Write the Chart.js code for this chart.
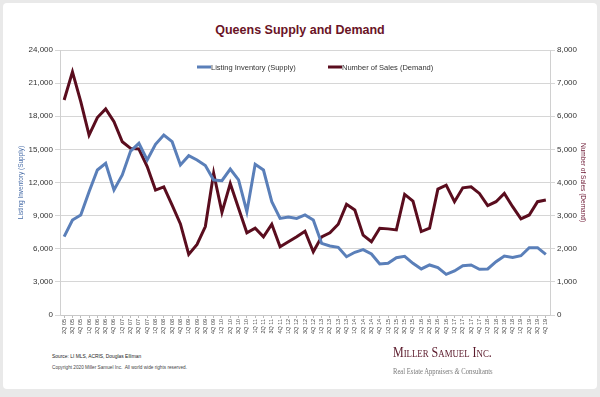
<!DOCTYPE html>
<html>
<head>
<meta charset="utf-8">
<script src="https://cdn.jsdelivr.net/npm/chart.js@4/dist/chart.umd.min.js"></script>
<style>
  html, body { margin: 0; padding: 0; background: #e9e9e9; }
  #frame { position: relative; width: 600px; height: 397px; background: #e9e9e9; overflow: hidden; }
  #card { position: absolute; left: 3px; top: 3px; width: 594px; height: 386px; background: #fff; border-radius: 4px; }
  #chartTitle { position: absolute; left: 0; top: 23px; width: 600px; text-align: center;
    font: bold 12.5px "Liberation Sans", Arial, sans-serif; color: #6a1426; }
  #chartBox { position: absolute; left: 0; top: 0; width: 600px; height: 345px; }
  .src { position: absolute; left: 52px; font-family: "Liberation Sans", Arial, sans-serif; color: #222; white-space: nowrap; }
  #logo1 { position: absolute; left: 393px; top: 344px; font: 15px "Liberation Serif", "DejaVu Serif", serif;
    font-variant: small-caps; color: #5b1a2b; white-space: nowrap; transform: scale(0.8, 1); transform-origin: left top; }
  #logo2 { position: absolute; left: 393px; top: 367px; font: 8.4px "Liberation Serif", "DejaVu Serif", serif; color: #7a7a7a;
    white-space: nowrap; transform: scale(0.79, 1); transform-origin: left top; }
</style>
</head>
<body>
<div id="frame">
  <div id="card"></div>
  <div id="chartTitle">Queens Supply and Demand</div>
  <div id="chartBox"><canvas id="chart1" width="600" height="345"></canvas></div>
  <div class="src" style="top:354px; font-size:4.9px;">Source: LI MLS, ACRIS, Douglas Elliman</div>
  <div class="src" style="top:365px; font-size:4.7px; color:#444;">Copyright 2020 Miller Samuel Inc.&nbsp; All world wide rights reserved.</div>
  <div id="logo1">Miller Samuel Inc.</div>
  <div id="logo2">Real Estate Appraisers <i>&amp;</i> Consultants</div>
</div>
<script>
// 四半期ラベル
const quarters = [
  '2Q 05','3Q 05','4Q 05',
  '1Q 06','2Q 06','3Q 06','4Q 06',
  '1Q 07','2Q 07','3Q 07','4Q 07',
  '1Q 08','2Q 08','3Q 08','4Q 08',
  '1Q 09','2Q 09','3Q 09','4Q 09',
  '1Q 10','2Q 10','3Q 10','4Q 10',
  '1Q 11','2Q 11','3Q 11','4Q 11',
  '1Q 12','2Q 12','3Q 12','4Q 12',
  '1Q 13','2Q 13','3Q 13','4Q 13',
  '1Q 14','2Q 14','3Q 14','4Q 14',
  '1Q 15','2Q 15','3Q 15','4Q 15',
  '1Q 16','2Q 16','3Q 16','4Q 16',
  '1Q 17','2Q 17','3Q 17','4Q 17',
  '1Q 18','2Q 18','3Q 18','4Q 18',
  '1Q 19','2Q 19','3Q 19','4Q 19'
];

// Listing Inventory (Supply) - 左軸
const supply = [
  7100, 8600, 9060, 11170, 13130, 13740, 11320, 12680, 14850, 15550, 14040, 15460, 16300, 15700, 13590,
  14430, 14040, 13530, 12230, 12170, 13220, 12230, 9360, 13650, 13130, 10260, 8750, 8880, 8750, 9060,
  8600, 6490, 6250, 6130, 5280, 5680, 5920, 5520, 4620, 4680, 5190, 5310, 4680, 4170,
  4530, 4290, 3680, 3990, 4470, 4530, 4140, 4170, 4830, 5340, 5220, 5370, 6100, 6100, 5490
];

// Number of Sales (Demand) - 右軸
const demand = [
  6490, 7340, 6440, 5430, 5960, 6220, 5835, 5230, 5030, 5010, 4480, 3770, 3870, 3320, 2750,
  1830, 2130, 2670, 4280, 3100, 3970, 3220, 2480, 2620, 2360, 2740, 2060, 2210, 2360, 2530,
  1910, 2360, 2480, 2740, 3340, 3170, 2410, 2210, 2620, 2600, 2570, 3640, 3440, 2520,
  2620, 3800, 3920, 3420, 3840, 3870, 3670, 3300, 3420, 3670, 3270, 2900, 3020, 3420, 3470
];

const leftTicks = { min: 0, max: 24000, step: 3000 };
const rightTicks = { min: 0, max: 8000, step: 1000 };

const BLUE = '#5a7fb9';
const MAROON = '#5a0d1e';
const FONT = '"Liberation Sans", Arial, sans-serif';

// 凡例 (グラフ内に描画)
const insideLegend = {
  id: 'insideLegend',
  afterDraw(chart) {
    const ctx = chart.ctx;
    const a = chart.chartArea;
    const spots = [a.left + 137, a.left + 268];
    ctx.save();
    ctx.font = '7.5px ' + FONT;
    ctx.textBaseline = 'middle';
    chart.data.datasets.forEach((ds, i) => {
      const x = spots[i];
      const y = a.top + 17;
      ctx.strokeStyle = ds.borderColor;
      ctx.lineWidth = 3;
      ctx.beginPath();
      ctx.moveTo(x, y);
      ctx.lineTo(x + 14, y);
      ctx.stroke();
      ctx.fillStyle = '#333';
      ctx.fillText(ds.label, x + 14, y + 0.5);
    });
    ctx.restore();
  }
};

new Chart(document.getElementById('chart1'), {
  type: 'line',
  data: {
    labels: quarters,
    datasets: [
      {
        label: 'Listing Inventory (Supply)',
        data: supply,
        borderColor: BLUE,
        backgroundColor: BLUE,
        borderWidth: 3,
        pointRadius: 0,
        tension: 0,
        yAxisID: 'y'
      },
      {
        label: 'Number of Sales (Demand)',
        data: demand,
        borderColor: MAROON,
        backgroundColor: MAROON,
        borderWidth: 3,
        pointRadius: 0,
        tension: 0,
        yAxisID: 'y2'
      }
    ]
  },
  options: {
    responsive: false,
    animation: false,
    layout: { padding: { top: 50, left: 0, right: 0, bottom: 0 } },
    plugins: {
      legend: { display: false },
      title: { display: false },
      tooltip: { enabled: false }
    },
    scales: {
      x: {
        offset: true,
        grid: { drawOnChartArea: false, drawTicks: true, tickLength: 3, color: '#bbb', offset: false },
        border: { color: '#c8c8c8' },
        ticks: {
          autoSkip: false, maxRotation: 90, minRotation: 90, padding: 1,
          font: { family: FONT, size: 5.5 }, color: '#444'
        },
        afterFit(scale) { scale.height = 30; }
      },
      y: {
        position: 'left',
        min: leftTicks.min, max: leftTicks.max,
        grid: { color: '#d6d6d6', tickLength: 5 },
        border: { color: '#d0d0d0' },
        ticks: {
          stepSize: leftTicks.step, padding: 2,
          font: { family: FONT, size: 8 }, color: '#333',
          callback: v => v.toLocaleString('en-US')
        },
        title: {
          display: true, text: 'Listing Inventory (Supply)', color: '#4a6ea8',
          font: { family: FONT, size: 6.5 }, padding: { top: 17, bottom: 0 }
        },
        afterFit(scale) { scale.width = 60; }
      },
      y2: {
        position: 'right',
        min: rightTicks.min, max: rightTicks.max,
        grid: { drawOnChartArea: false, color: '#d6d6d6', tickLength: 5 },
        border: { color: '#d0d0d0' },
        ticks: {
          stepSize: rightTicks.step, padding: 2,
          font: { family: FONT, size: 8 }, color: '#333',
          callback: v => v.toLocaleString('en-US')
        },
        title: {
          display: true, text: 'Number of Sales (Demand)', color: '#6a1430',
          font: { family: FONT, size: 6.5 }, padding: { top: 13, bottom: 0 }
        },
        afterFit(scale) { scale.width = 50; }
      }
    }
  },
  plugins: [insideLegend]
});
</script>
</body>
</html>
